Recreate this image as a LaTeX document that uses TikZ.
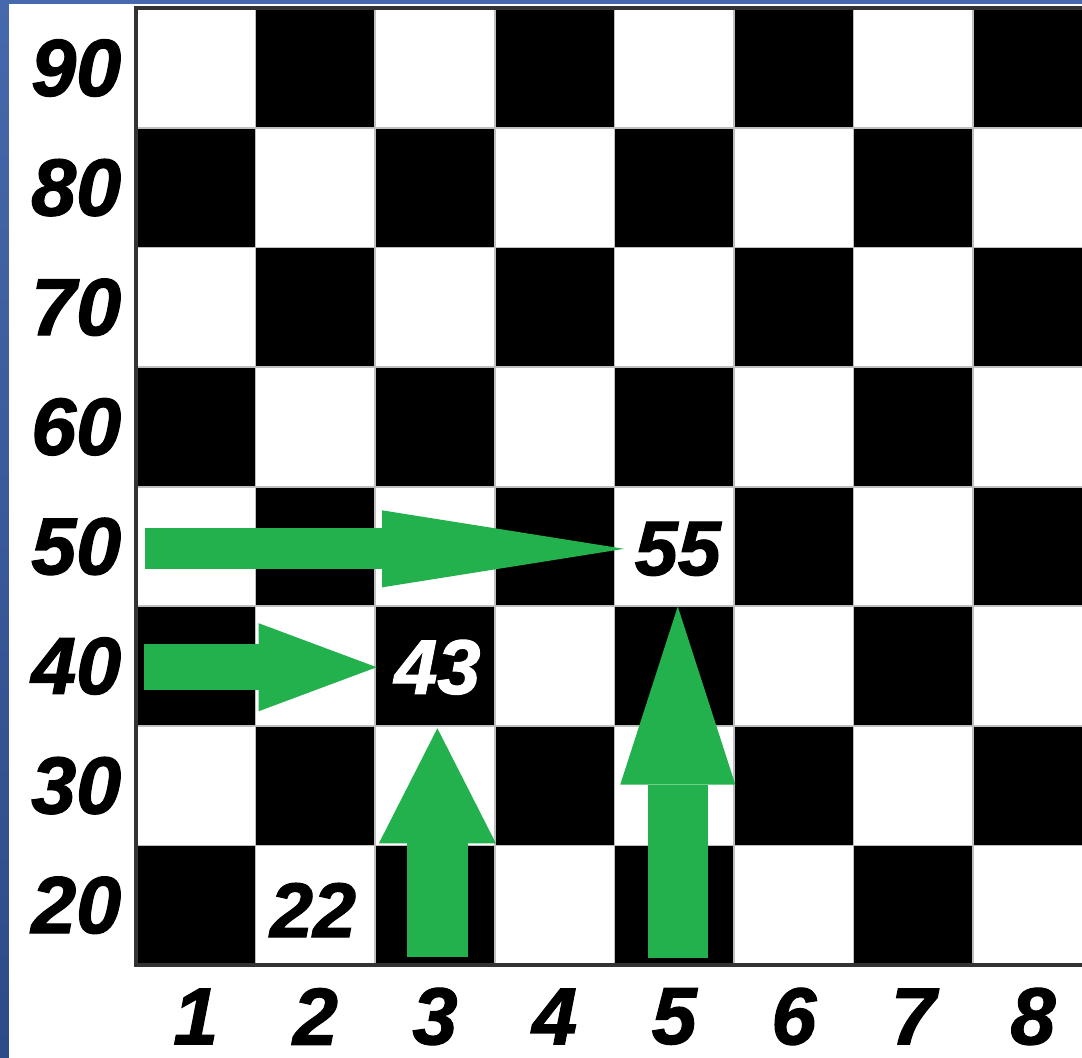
\documentclass[tikz,border=0pt]{standalone}
\usepackage{fontspec}
\newfontfamily\numfont{Liberation Sans}[BoldItalicFeatures={FakeBold=1.5}]
\usepackage{tikz}
\usetikzlibrary{arrows.meta,calc}
\definecolor{movegreen}{HTML}{22B14C}
\definecolor{frameblue}{HTML}{4668AC}
\definecolor{frameblue2}{HTML}{2E4A88}

\begin{document}
\begin{tikzpicture}[
  x=1.196cm, y=1.196cm,
  lab/.style={font=\numfont\bfseries\itshape\fontsize{23pt}{23pt}\selectfont, inner sep=0pt},
  cell/.style={font=\numfont\bfseries\itshape\fontsize{22pt}{22pt}\selectfont, inner sep=0pt},
  move/.style={draw=movegreen, line cap=butt, line width=#1}
]
\useasboundingbox (-1.137,-0.769) rectangle (7.910,8.069);
\fill[white] (-1.137,-0.769) rectangle (7.910,8.069);
\shade[top color=frameblue, bottom color=frameblue2] (-1.137,-0.769) rectangle (-1.062,8.069);
\fill[frameblue] (-1.137,8.036) rectangle (7.910,8.069);

% board
\begin{scope}
\clip (-0.05,-0.05) rectangle (7.910,8.05);
\foreach \i in {0,...,7}
  \foreach \j in {0,...,7} {
    \pgfmathtruncatemacro\k{mod(\i+\j,2)}
    \ifnum\k=0 \fill[black] (\i,\j) rectangle ++(1,1); \fi
  }
\foreach \g in {1,...,7} {
  \draw[gray!50, line width=0.5pt] (\g,0) -- (\g,8);
  \draw[gray!50, line width=0.5pt] (0,\g) -- (8,\g);
}
\draw[black!80, line width=1pt] (0,0) rectangle (8,8);
\end{scope}

% row and column labels
\foreach \r [count=\j from 0] in {20,30,...,90}
  \node[lab] (r\r) at (-0.5,\j+0.5) {\r};
\foreach \c in {1,...,8}
  \node[lab] (c\c) at (\c-0.5,-0.43) {\c};

% squares
\node[cell] (n22) at (1.48,0.46) {22};
\node[cell, text=white] (n43) at (2.52,2.49) {43};
\node[cell] (n55) at (4.53,3.48) {55};

% moves
\coordinate (s1) at (0.075,3.48);
\coordinate (s2) at (0.067,2.49);
\coordinate (s3) at (2.52,0.067);
\coordinate (s4) at (4.53,0.06);
\draw[move=0.41cm, -{Triangle[length=2.42cm,width=0.77cm,line width=0pt]}, shorten >=0.1cm] (s1) -- (n55.west);
\draw[move=0.46cm, -{Triangle[length=1.18cm,width=0.88cm,line width=0pt]}, shorten >=0.17cm] (s2) -- (n43.west);
\draw[move=0.61cm, -{Triangle[length=1.15cm,width=1.17cm,line width=0pt]}, shorten >=0.33cm] (s3) -- (n43.south);
\draw[move=0.60cm, -{Triangle[length=1.78cm,width=1.15cm,line width=0pt]}, shorten >=0.30cm] (s4) -- (n55.south);
\end{tikzpicture}
\end{document}
